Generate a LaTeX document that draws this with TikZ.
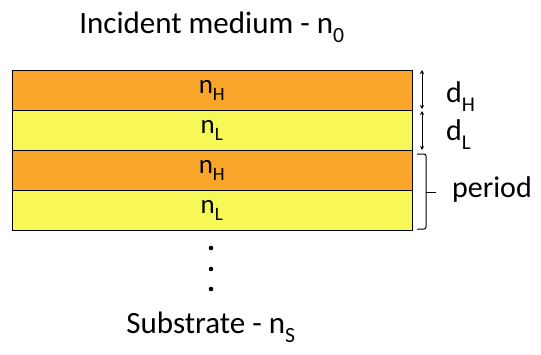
\documentclass[tikz,border=0pt]{standalone}
\usepackage{fontspec}
\setmainfont{Carlito}
\usetikzlibrary{arrows.meta}
\definecolor{layH}{RGB}{249,166,43}
\definecolor{layL}{RGB}{247,247,87}
\newcommand{\sbx}[1]{\raisebox{-0.3ex}{\textsubscript{#1}}}
\begin{document}
\begin{tikzpicture}[x=1pt,y=-1pt,
  layer/.style={draw=black,line width=1pt,minimum width=400pt,minimum height=40pt,inner sep=0pt,anchor=north west},
  lt/.style={font=\fontsize{27}{29}\selectfont,inner sep=0pt,anchor=base},
  lbl/.style={font=\fontsize{31}{33}\selectfont,inner sep=0pt,anchor=base},
  side/.style={font=\fontsize{30}{32}\selectfont,inner sep=0pt,anchor=base west},
  dim/.style={{Stealth[length=4pt,width=4pt]}-{Stealth[length=4pt,width=4pt]},line width=0.7pt},
  brk/.style={line width=1pt,rounded corners=2pt}]
\useasboundingbox (0,0) rectangle (541,354);
\node[layer,fill=layH] (l1) at (12,70) {};
\node[layer,fill=layL] (l2) at (12,110) {};
\node[layer,fill=layH] (l3) at (12,150) {};
\node[layer,fill=layL] (l4) at (12,190) {};
\node[lt] (t1) at (212,93) {n\sbx{H}};
\node[lt] (t2) at (212,133) {n\sbx{L}};
\node[lt] (t3) at (212,173) {n\sbx{H}};
\node[lt] (t4) at (212,213) {n\sbx{L}};
\node[lbl] (top) at (212,33) {Incident medium - n\sbx{0}};
\node[lbl] (sub) at (211,333) {Substrate - n\sbx{S}};
\coordinate (a1) at (422,70);
\coordinate (a2) at (422,109);
\coordinate (a3) at (422,111);
\coordinate (a4) at (422,150);
\draw[dim] (a1) -- (a2);
\draw[dim] (a3) -- (a4);
\node[side] (dh) at (446,102) {d\sbx{H}};
\node[side] (dl) at (446,140) {d\sbx{L}};
\coordinate (b1) at (417,154);
\coordinate (b2) at (426,154);
\coordinate (bm) at (426,192);
\coordinate (bt) at (436,192);
\coordinate (b3) at (426,229);
\coordinate (b4) at (417,229);
\draw[brk] (b1) -- (b2) -- (bm);
\draw[brk] (bm) -- (b3) -- (b4);
\draw[line width=1pt] (bm) -- (bt);
\node[side] (per) at (452,197) {period};
\foreach \yy in {248,269,289} \fill (211,\yy) circle (2.3pt);
\end{tikzpicture}
\end{document}
